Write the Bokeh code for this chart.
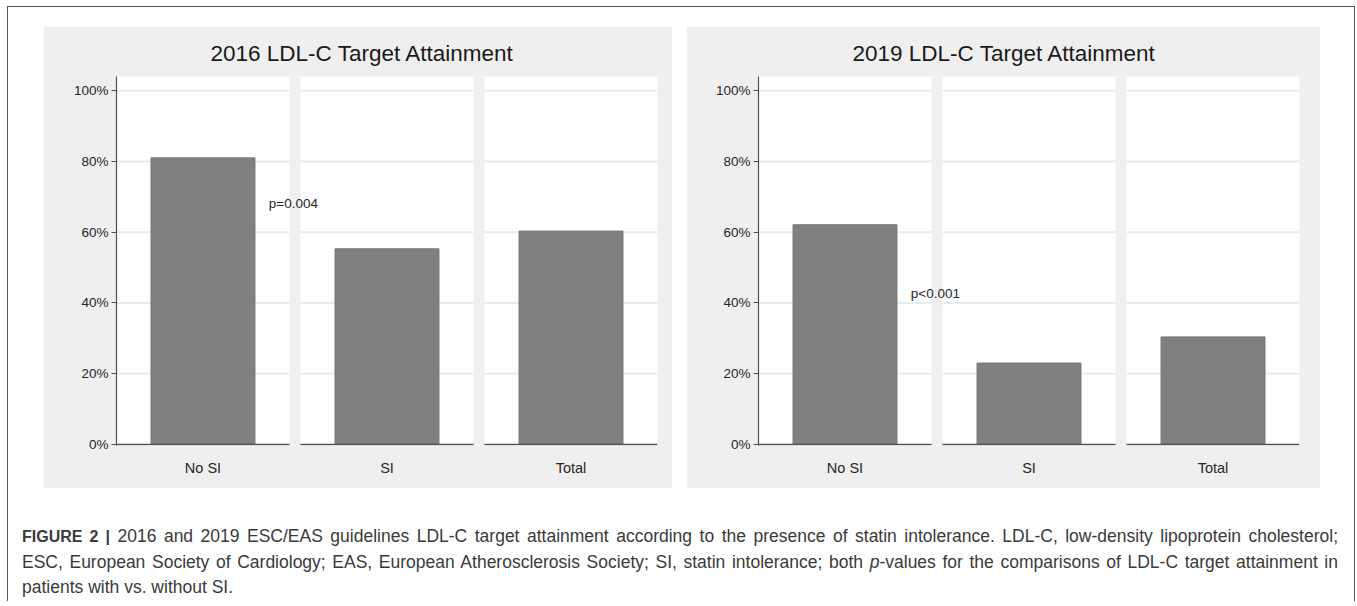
from bokeh.plotting import figure
from bokeh.models import FixedTicker, Range1d, Div
from bokeh.layouts import row, column
from bokeh.core.properties import value
from bokeh.embed import file_html
from bokeh.resources import INLINE

# ---------------- data ----------------
categories = ["No SI", "SI", "Total"]
attain_2016 = [81.0, 55.3, 60.3]
attain_2019 = [62.1, 23.0, 30.4]
chart_titles = ["2016 LDL-C Target Attainment", "2019 LDL-C Target Attainment"]
p_labels = ["p=0.004", "p<0.001"]
y_ticks = [0, 20, 40, 60, 80, 100]
y_tick_labels = ["0%", "20%", "40%", "60%", "80%", "100%"]

caption_lines = [
    '<b style="font-size:16px">FIGURE 2 |</b> 2016 and 2019 ESC/EAS guidelines LDL-C target attainment according to the presence of statin intolerance. LDL-C, low-density lipoprotein cholesterol;',
    "ESC, European Society of Cardiology; EAS, European Atherosclerosis Society; SI, statin intolerance; both <i>p</i>-values for the comparisons of LDL-C target attainment in",
    "patients with vs. without SI.",
]

# ---------------- style ----------------
FONT = "Liberation Sans"
GRAY = "#efefef"
GRID = "#e3edf1"
BAR = "#808080"
BAR_EDGE = "#787878"
AXIS = "#505050"
TXT = "#262626"
PANEL_W = 0.94
BAR_W = 0.565
Y_TOP = 104


def make_chart(title, vals, plabel, width, left_border, right_border, margin):
    n = len(categories)
    xs = list(range(n))
    p = figure(width=width, height=462,
               x_range=Range1d(-PANEL_W / 2, n - 1 + PANEL_W / 2),
               y_range=Range1d(-0.3, Y_TOP),
               output_backend="svg", toolbar_location=None,
               min_border_left=left_border, min_border_right=right_border,
               min_border_top=50, min_border_bottom=43,
               background_fill_color=GRAY, border_fill_color=GRAY,
               outline_line_color=None, margin=margin)
    p.xgrid.visible = False
    p.ygrid.visible = False

    # white category panels
    p.vbar(x=xs, width=PANEL_W, bottom=0, top=Y_TOP, fill_color="white", line_color=None)

    # grid lines inside each panel
    gx0, gx1, gy = [], [], []
    for i in xs:
        for t in y_ticks[1:]:
            gx0.append(i - PANEL_W / 2)
            gx1.append(i + PANEL_W / 2)
            gy.append(t)
    p.segment(x0=gx0, y0=gy, x1=gx1, y1=gy, line_color=GRID, line_width=2)

    # bars
    p.vbar(x=xs, width=BAR_W, bottom=0, top=vals, fill_color=BAR, line_color=BAR_EDGE, line_width=1)

    # per-panel baseline
    p.segment(x0=[i - PANEL_W / 2 for i in xs], y0=[0] * n,
              x1=[i + PANEL_W / 2 for i in xs], y1=[0] * n,
              line_color=AXIS, line_width=1.6)

    # p-value annotation
    p.text(x=[xs[0] + BAR_W / 2 + 0.075], y=[(vals[0] + vals[1]) / 2], text=[plabel],
           text_font=value(FONT), text_font_size="13.5px", text_color=TXT,
           text_align="left", text_baseline="middle")

    # title
    p.title.text = title
    p.title.align = "left"
    p.title.offset = 94
    p.title.text_font = FONT
    p.title.text_font_size = "22.5px"
    p.title.text_font_style = "normal"
    p.title.text_color = "#1a1a1a"
    p.title.standoff = 22

    # y axis
    ya = p.yaxis[0]
    ya.ticker = FixedTicker(ticks=y_ticks)
    ya.major_label_overrides = {t: lab for t, lab in zip(y_ticks, y_tick_labels)}
    ya.axis_line_color = AXIS
    ya.axis_line_width = 1.2
    ya.major_tick_line_color = AXIS
    ya.major_tick_in = 0
    ya.major_tick_out = 5
    ya.minor_tick_line_color = None
    ya.major_label_standoff = 3
    ya.major_label_text_font = FONT
    ya.major_label_text_font_size = "13.5px"
    ya.major_label_text_color = TXT

    # x axis
    xa = p.xaxis[0]
    xa.ticker = FixedTicker(ticks=xs)
    xa.major_label_overrides = {i: c for i, c in zip(xs, categories)}
    xa.axis_line_color = None
    xa.major_tick_line_color = None
    xa.major_tick_in = 0
    xa.major_tick_out = 0
    xa.minor_tick_line_color = None
    xa.major_label_standoff = 14
    xa.major_label_text_font = FONT
    xa.major_label_text_font_size = "14.5px"
    xa.major_label_text_color = TXT
    return p


p1 = make_chart(chart_titles[0], attain_2016, p_labels[0], 629, 73, 15, (19, 0, 0, 35))
p2 = make_chart(chart_titles[1], attain_2019, p_labels[1], 634, 72, 21, (19, 34, 0, 14))

line_style = "width:1316px;text-align:justify;text-align-last:justify;line-height:25.5px;height:25.5px;"
last_style = "width:1316px;text-align:left;line-height:25.5px;height:25.5px;"
cap_html = (
    '<div style="width:1316px">'
    f'<div style="{line_style}">{caption_lines[0]}</div>'
    f'<div style="{line_style}">{caption_lines[1]}</div>'
    f'<div style="{last_style}">{caption_lines[2]}</div>'
    '</div>'
)
caption = Div(text=cap_html, width=1316, height=77,
              margin=(36, 0, 0, 14),
              styles={"font-family": FONT, "font-size": "17.5px", "color": "#3a3a3a"})

layout = column(row(p1, p2), caption, margin=(6, 0, 0, 7),
                styles={"border-top": "1px solid #555", "border-left": "1px solid #555",
                        "border-right": "1px solid #555"})

open("out.html", "w").write(file_html(layout, INLINE))
